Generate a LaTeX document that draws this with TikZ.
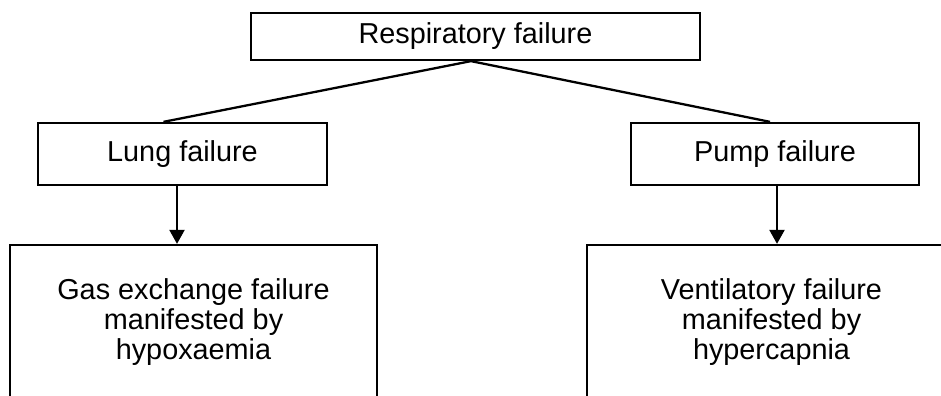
\documentclass[tikz,border=0pt]{standalone}
\usepackage{fontspec}
\setmainfont{Liberation Sans}
\usetikzlibrary{arrows.meta}

\tikzset{
  box/.style={draw,line width=1.3pt,inner sep=0pt,align=center,
    font=\fontsize{16.4}{17.1}\selectfont},
  link/.style={line width=1.3pt},
  down/.style={line width=1.3pt,-{Triangle[length=0.28cm,width=0.3cm]}}
}

\begin{document}
\begin{tikzpicture}[x=1cm,y=1cm]
\useasboundingbox (0,0) rectangle (18.82,7.92);
\clip (0,0) rectangle (18.82,7.92);

\node[box,minimum width=8.98cm,minimum height=0.94cm] (resp) at (9.51,7.19) {Respiratory failure};

\node[box,minimum width=5.78cm,minimum height=1.24cm] (lung) at (3.65,4.84) {Lung failure};
\node[box,minimum width=5.76cm,minimum height=1.24cm] (pump) at (15.50,4.84) {Pump failure};

\node[box,minimum width=7.34cm,minimum height=3.08cm] (gasx) at (3.87,1.48)
  {Gas exchange failure\\manifested by\\hypoxaemia};
\node[box,minimum width=7.38cm,minimum height=3.08cm] (vent) at (15.43,1.48)
  {Ventilatory failure\\manifested by\\hypercapnia};

\draw[link] ([xshift=-0.09cm]resp.south) -- ([xshift=-0.38cm]lung.north);
\draw[link] ([xshift=-0.09cm]resp.south) -- ([xshift=-0.10cm]pump.north);

\draw[down] ([xshift=-0.11cm]lung.south) -- ([xshift=-0.11cm]lung.south |- gasx.north);
\draw[down] ([xshift=0.04cm]pump.south) -- ([xshift=0.04cm]pump.south |- vent.north);
\end{tikzpicture}
\end{document}
